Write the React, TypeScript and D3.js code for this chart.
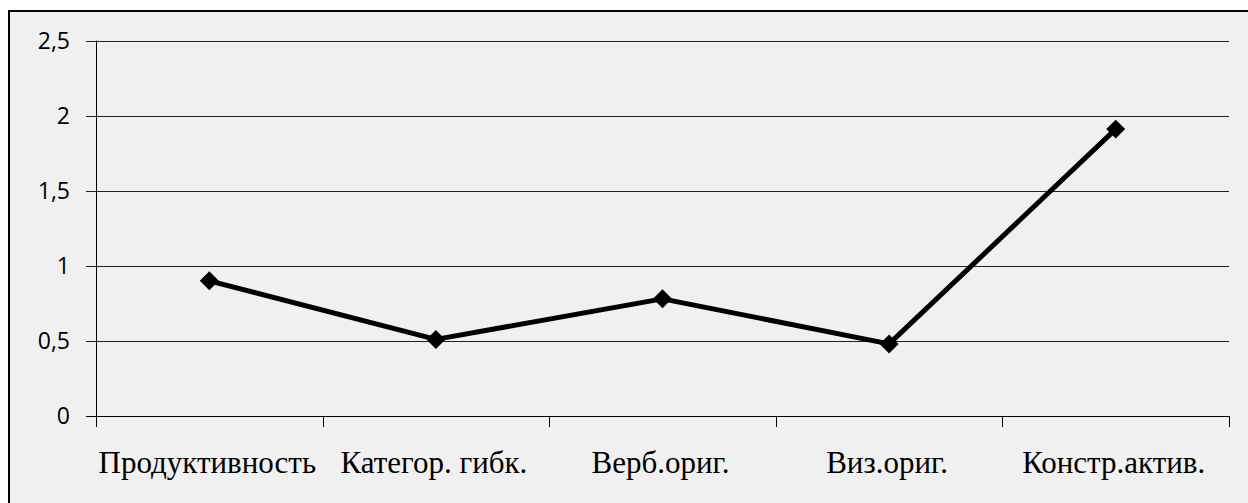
import React, { useEffect, useRef } from 'react';
import * as d3 from 'd3';

const categories = ['Продуктивность', 'Категор. гибк.', 'Верб.ориг.', 'Виз.ориг.', 'Констр.актив.'];
const values = [0.9, 0.51, 0.78, 0.48, 1.91];
const yTicks = [0, 0.5, 1, 1.5, 2, 2.5];

const App: React.FC = () => {
    const ref = useRef<SVGSVGElement>(null);

    useEffect(() => {
        const svg = d3.select(ref.current);
        svg.selectAll('*').remove();

        const marginTop = 40.5;
        const marginLeft = 96;
        const plotRight = 1229;
        const plotBottom = 416;

        // chart area frame (runs past the right and bottom edge)
        svg.append('rect')
            .attr('x', 9)
            .attr('y', 11)
            .attr('width', 1260)
            .attr('height', 520)
            .attr('fill', '#f0f0f0')
            .attr('stroke', '#000')
            .attr('stroke-width', 2);

        const x = d3.scaleBand()
            .domain(categories)
            .range([marginLeft, plotRight]);

        const y = d3.scaleLinear()
            .domain([0, 2.5])
            .range([plotBottom, marginTop]);

        // gridlines + y ticks
        const grid = svg.append('g');
        grid.selectAll('line')
            .data(yTicks)
            .join('line')
            .attr('x1', marginLeft - 10)
            .attr('x2', plotRight)
            .attr('y1', d => Math.round(y(d)) + 0.5)
            .attr('y2', d => Math.round(y(d)) + 0.5)
            .attr('stroke', d => d === 0 ? '#000' : '#222')
            .attr('stroke-width', 1);

        grid.selectAll('text')
            .data(yTicks)
            .join('text')
            .attr('x', 70)
            .attr('y', d => y(d))
            .attr('dy', '0.36em')
            .attr('text-anchor', 'end')
            .style('font-family', '"Open Sans"')
            .attr('font-size', 23)
            .attr('fill', '#000')
            .text(d => String(d).replace('.', ','));

        // y axis line
        svg.append('line')
            .attr('x1', marginLeft + 0.5)
            .attr('x2', marginLeft + 0.5)
            .attr('y1', marginTop)
            .attr('y2', plotBottom + 11)
            .attr('stroke', '#000');

        // x axis ticks at category boundaries
        const bounds = categories.map(c => x(c) as number).concat([plotRight]);
        svg.append('g')
            .selectAll('line')
            .data(bounds)
            .join('line')
            .attr('x1', d => Math.round(d) + 0.5)
            .attr('x2', d => Math.round(d) + 0.5)
            .attr('y1', plotBottom)
            .attr('y2', plotBottom + 11)
            .attr('stroke', '#000');

        svg.append('g')
            .selectAll('text')
            .data(categories)
            .join('text')
            .attr('x', d => (x(d) as number) + x.bandwidth() / 2 - 2)
            .attr('y', 473)
            .attr('text-anchor', 'middle')
            .style('font-family', '"Liberation Serif"')
            .attr('font-size', 31)
            .attr('fill', '#000')
            .text(d => d);

        // the series line
        const line = d3.line<number>()
            .x((d, i) => (x(categories[i]) as number) + x.bandwidth() / 2)
            .y(d => y(d));

        svg.append('path')
            .datum(values)
            .attr('d', line)
            .attr('fill', 'none')
            .attr('stroke', '#000')
            .attr('stroke-width', 5)
            .attr('stroke-linejoin', 'round');

        const marker = d3.symbol().type(d3.symbolSquare).size(180);
        svg.append('g')
            .selectAll('path')
            .data(values)
            .join('path')
            .attr('d', marker)
            .attr('transform', (d, i) =>
                `translate(${(x(categories[i]) as number) + x.bandwidth() / 2},${y(d)}) rotate(45)`)
            .attr('fill', '#000');
    }, []);

    return (
        <svg ref={ref} width={1248} height={503}
            style={{ position: 'absolute', left: 0, top: 0, background: '#fff' }} />
    );
};

export default App;
